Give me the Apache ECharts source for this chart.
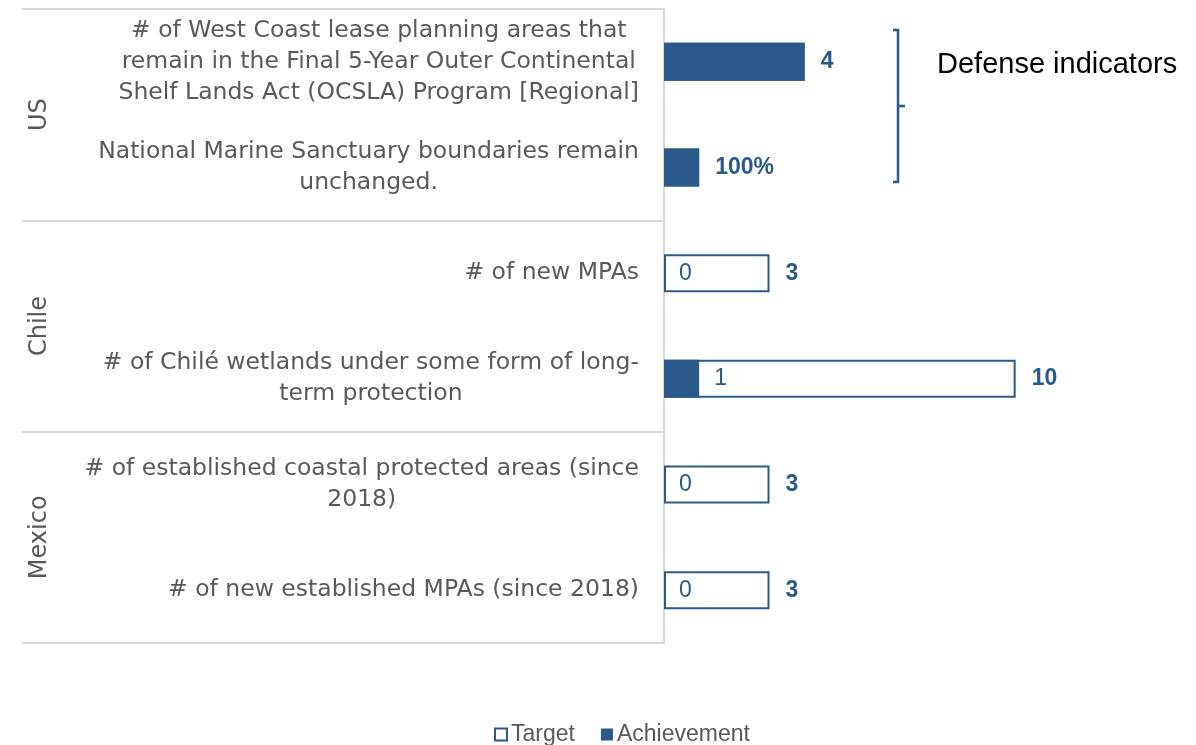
<!DOCTYPE html>
<html>
<head>
<meta charset="utf-8">
<title>Protection indicators: target vs achievement</title>
<script src="https://cdn.jsdelivr.net/npm/echarts@6/dist/echarts.min.js"></script>
<style>
  html, body { margin: 0; padding: 0; background: #ffffff; }
  #chart { width: 1196px; height: 745px; }
</style>
</head>
<body>
<div id="chart"></div>
<script>
// Indicator names (top to bottom), with the line breaks used on the axis
const indicators = [
  '# of West Coast lease planning areas that\nremain in the Final 5-Year Outer Continental\nShelf Lands Act (OCSLA) Program [Regional]',
  'National Marine Sanctuary boundaries remain\nunchanged.',
  '# of new MPAs',
  '# of Chilé wetlands under some form of long-\nterm protection',
  '# of established coastal protected areas (since\n2018)',
  '# of new established MPAs (since 2018)'
];
// Country groups, each spanning two indicators
const countries = ['US', 'Chile', 'Mexico'];
// How each indicator value is expressed
const units = ['count', 'share', 'count', 'count', 'count', 'count'];
// Target and achieved values
const targetValues = [4, 1, 3, 10, 3, 3];
const achievementValues = [4, 1, 0, 1, 0, 0];
// Rows whose achievement label is not shown
const hideAchievementLabel = [true, true, false, false, false, false];

const BLUE = '#2A5A8C';
const GREY_TEXT = '#595959';
const GREY_LINE = '#D9D9D9';

function fmtValue(v, i) {
  return units[i] === 'share' ? Math.round(v * 100) + '%' : String(v);
}

const chart = echarts.init(document.getElementById('chart'), null, { renderer: 'canvas' });

const option = {
  backgroundColor: '#ffffff',
  animation: false,
  grid: { left: 664, right: 110, top: 9, bottom: 102, containLabel: false },
  legend: {
    data: ['Target', 'Achievement'],
    left: 489,
    top: 718,
    itemWidth: 12,
    itemHeight: 12,
    itemGap: 26,
    icon: 'rect',
    textStyle: {
      fontFamily: 'Liberation Sans, Arial, sans-serif',
      fontSize: 23,
      color: GREY_TEXT,
      padding: [0, 0, 0, -1]
    }
  },
  xAxis: {
    type: 'value',
    min: 0,
    max: 12,
    show: false,
    splitLine: { show: false }
  },
  yAxis: [
    {
      type: 'category',
      inverse: true,
      data: indicators,
      axisLine: { show: true, lineStyle: { color: GREY_LINE, width: 2 } },
      axisTick: { show: false },
      axisLabel: {
        interval: 0,
        margin: 25,
        align: 'right',
        formatter: function (val) {
          return val.split('\n').map(function (l) { return '{c|' + l + '}'; }).join('\n');
        },
        rich: {
          c: {
            align: 'center',
            fontFamily: 'DejaVu Sans, Verdana, sans-serif',
            fontSize: 23.5,
            lineHeight: 31,
            color: GREY_TEXT
          }
        }
      }
    },
    {
      type: 'category',
      inverse: true,
      position: 'left',
      data: countries,
      axisLine: { show: false },
      axisTick: {
        show: true,
        length: 642,
        lineStyle: { color: GREY_LINE, width: 2 }
      },
      axisLabel: {
        interval: 0,
        rotate: 90,
        margin: 624,
        align: 'center',
        verticalAlign: 'middle',
        fontFamily: 'DejaVu Sans, Verdana, sans-serif',
        fontSize: 24,
        color: GREY_TEXT
      }
    }
  ],
  series: [
    {
      name: 'Target',
      type: 'bar',
      yAxisIndex: 0,
      barWidth: 38,
      barGap: '-100%',
      data: targetValues,
      itemStyle: { color: '#ffffff', borderColor: BLUE, borderWidth: 2 },
      label: {
        show: true,
        position: 'right',
        distance: 16,
        fontFamily: 'Liberation Sans, Arial, sans-serif',
        fontWeight: 'bold',
        fontSize: 23,
        color: BLUE,
        formatter: function (p) { return fmtValue(p.value, p.dataIndex); }
      },
      z: 2
    },
    {
      name: 'Achievement',
      type: 'bar',
      yAxisIndex: 0,
      barWidth: 38,
      barGap: '-100%',
      data: achievementValues.map(function (v, i) {
        return { value: v, label: { show: !hideAchievementLabel[i] } };
      }),
      itemStyle: { color: BLUE },
      label: {
        show: true,
        position: 'right',
        distance: 15,
        fontFamily: 'Liberation Sans, Arial, sans-serif',
        fontSize: 23,
        color: BLUE,
        formatter: function (p) { return fmtValue(p.value, p.dataIndex); }
      },
      z: 3
    }
  ],
  graphic: [
    {
      type: 'polyline',
      shape: { points: [[893, 30], [898, 30], [898, 182], [893, 182]] },
      style: { stroke: BLUE, lineWidth: 2.5, fill: null }
    },
    {
      type: 'line',
      shape: { x1: 898, y1: 106, x2: 905, y2: 106 },
      style: { stroke: BLUE, lineWidth: 2.5 }
    },
    {
      type: 'text',
      left: 937,
      top: 50,
      style: {
        text: 'Defense indicators',
        fontFamily: 'Liberation Sans, Arial, sans-serif',
        fontSize: 29,
        fill: '#000000'
      }
    }
  ]
};

chart.setOption(option);
</script>
</body>
</html>
